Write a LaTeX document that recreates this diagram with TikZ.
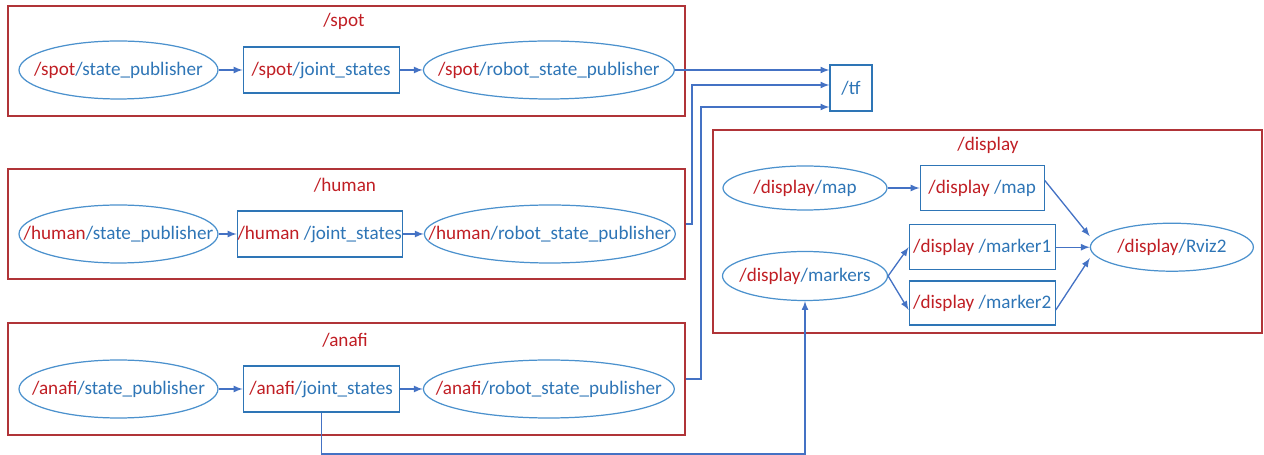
\documentclass[tikz,border=0pt]{standalone}
\usepackage{fontspec}
\setmainfont{Carlito}
\usetikzlibrary{shapes, positioning}

\definecolor{nsred}{RGB}{192,30,36}
\definecolor{tpblue}{RGB}{46,117,182}
\definecolor{lineblue}{RGB}{68,114,196}
\definecolor{ellblue}{RGB}{75,145,205}
\definecolor{boxred}{RGB}{176,52,56}

\newcommand{\ns}[1]{\textcolor{nsred}{#1}}
\newcommand{\tp}[1]{\textcolor{tpblue}{#1}}

\begin{document}
\begin{tikzpicture}[x=0.02cm, y=-0.02cm,
    every node/.style={font=\fontsize{10.9}{13}\selectfont},
    pub/.style={ellipse, draw=ellblue, line width=0.7pt, inner xsep=-60pt, inner ysep=-20pt, minimum width=3.98cm, minimum height=1.16cm},
    topic/.style={rectangle, draw=tpblue, line width=0.7pt, inner sep=0pt, minimum width=3.12cm, minimum height=0.92cm},
    group/.style={rectangle, draw=boxred, line width=0.7pt, minimum width=13.54cm, minimum height=2.2cm},
    gtitle/.style={text=nsred, inner sep=0pt},
    flow/.style={-latex, color=lineblue, line width=0.75pt}]
        \useasboundingbox (0,0) rectangle (1264,455);

        \node[group] (SB) at (346.5,61) {};
        \node[gtitle] (ST) at (344,21) {/spot};
        \node[pub] (SP) at (118.5,70) {\ns{/spot}\tp{/state\_publisher}};
        \node[topic, right=0.48cm of SP] (SJ) {\ns{/spot}\tp{/joint\_states}};
        \node[pub, minimum width=5.02cm, right=0.46cm of SJ] (SR) {\ns{/spot}\tp{/robot\_state\_publisher}};

        \node[group] (HB) at (346.5,224) {};
        \node[gtitle] (HT) at (345,185) {/human};
        \node[pub] (HP) at (118.5,234) {\ns{/human}\tp{/state\_publisher}};
        \node[topic, minimum width=3.3cm, right=0.36cm of HP] (HJ) {\ns{/human} \tp{/joint\_states}};
        \node[pub, minimum width=5.02cm, right=0.42cm of HJ] (HR) {\ns{/human}\tp{/robot\_state\_publisher}};

        \node[group, minimum height=2.24cm] (AB) at (346.5,379) {};
        \node[gtitle] (AT) at (345,340) {/anafi};
        \node[pub] (AP) at (118.5,389) {\ns{/anafi}\tp{/state\_publisher}};
        \node[topic, right=0.48cm of AP] (AJ) {\ns{/anafi}\tp{/joint\_states}};
        \node[pub, minimum width=5.02cm, right=0.46cm of AJ] (AR) {\ns{/anafi}\tp{/robot\_state\_publisher}};

        \node[topic, minimum width=0.84cm] (TF) at (851,88) {\tp{/tf}};

        \node[group, minimum width=10.98cm, minimum height=4.06cm] (DB) at (987.5,231.5) {};
        \node[gtitle] (DT) at (988,145) {/display};
        \node[pub, minimum width=3.28cm, minimum height=0.88cm] (DM) at (805,188) {\ns{/display}\tp{/map}};
        \node[topic, minimum width=2.48cm, minimum height=0.9cm, right=0.64cm of DM] (DMT) {\ns{/display} \tp{/map}};
        \node[topic, minimum width=2.92cm, minimum height=0.9cm, below=0.26cm of DMT] (DK1) {\ns{/display} \tp{/marker1}};
        \node[topic, minimum width=2.92cm, minimum height=0.88cm, below=0.2cm of DK1] (DK2) {\ns{/display} \tp{/marker2}};
        \node[pub, minimum width=3.3cm, minimum height=0.98cm] (DK) at (805,276) {\ns{/display}\tp{/markers}};
        \node[pub, minimum width=3.26cm, minimum height=0.96cm, right=0.68cm of DK1] (RV) {\ns{/display}\tp{/Rviz2}};

        \coordinate (HC) at (692,85);
        \coordinate (AC) at (701,107);
        \coordinate (AD) at (805,454);

        \path[flow] (SP) edge (SJ) (SJ) edge (SR);
        \path[flow] (HP) edge (HJ) (HJ) edge (HR);
        \path[flow] (AP) edge (AJ) (AJ) edge (AR);

        \draw[flow] (SR) -- (SR -| TF.west);
        \draw[flow] (HB.east) -| (HC) -- (HC -| TF.west);
        \draw[flow] (AB.east) -| (AC) -- (AC -| TF.west);
        \draw[flow] (AJ.south) |- (AD) -- (DK.south);

        \path[flow] (DM) edge (DMT);
        \draw[flow] ([yshift=0.15cm]DMT.east) -- ([yshift=0.22cm]RV.west);
        \draw[flow] (DK1.east) -- (DK1.east -| RV.west);
        \draw[flow] ([yshift=-0.14cm]DK2.east) -- ([yshift=-0.22cm]RV.west);
        \draw[flow] (DK.east) -- (DK1.west);
        \draw[flow] (DK.east) -- ([yshift=-0.14cm]DK2.west);
    \end{tikzpicture}
\end{document}
